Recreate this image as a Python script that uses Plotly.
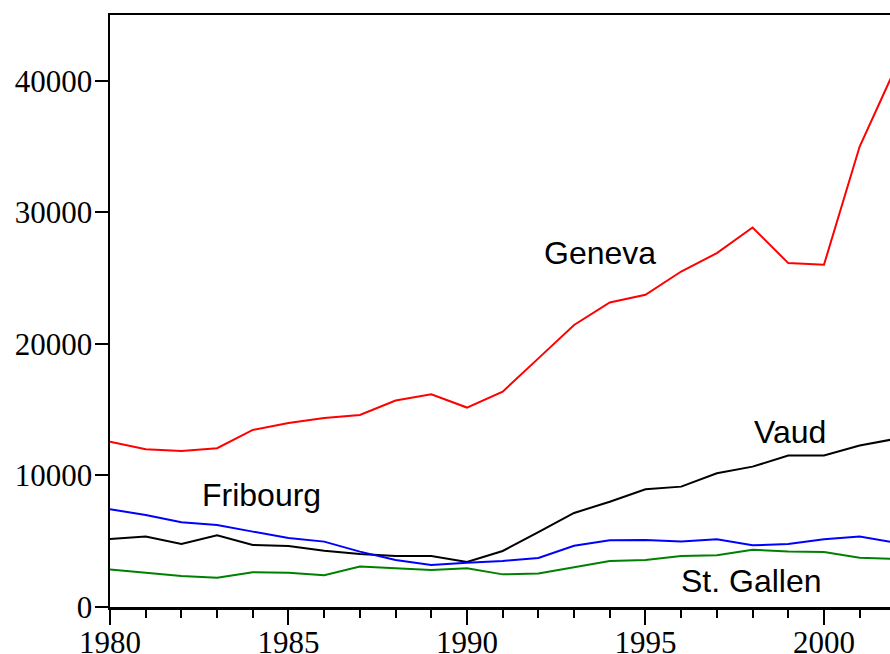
import plotly.graph_objects as go

years = list(range(1980, 2003))
geneva = [12570, 11990, 11860, 12070, 13460, 13990, 14370, 14600, 15690, 16170,
          15160, 16370, 18900, 21440, 23150, 23730, 25500, 26900, 28850, 26140,
          26010, 35000, 40950]
vaud = [5170, 5350, 4790, 5450, 4710, 4640, 4280, 4030, 3880, 3880,
        3420, 4260, 5700, 7150, 8000, 8950, 9150, 10170, 10670, 11510,
        11510, 12270, 12780]
fribourg = [7430, 7000, 6440, 6240, 5730, 5250, 4970, 4210, 3570, 3190,
            3370, 3500, 3730, 4650, 5080, 5100, 4970, 5150, 4690, 4790,
            5150, 5350, 4900]
stgallen = [2860, 2610, 2360, 2230, 2640, 2610, 2410, 3070, 2940, 2810,
            2940, 2480, 2550, 3000, 3500, 3570, 3880, 3930, 4360, 4210,
            4180, 3750, 3650]

series = [("Geneva", geneva, "#ff0000"), ("Vaud", vaud, "#000000"),
          ("Fribourg", fribourg, "#0000ff"), ("St. Gallen", stgallen, "#008000")]

labels = [("Geneva", 1993.73, 26920), ("Vaud", 1999.05, 13310),
          ("Fribourg", 1984.23, 8520), ("St. Gallen", 1997.98, 1980)]

fig = go.Figure()
for name, vals, col in series:
    fig.add_trace(go.Scatter(x=years, y=vals, mode="lines", name=name,
                             line=dict(color=col, width=2)))

for txt, x, y in labels:
    fig.add_annotation(x=x, y=y, text=txt, showarrow=False,
                       font=dict(family="Liberation Sans, Arial, sans-serif", size=32, color="black"))

serif = "Liberation Serif, Times New Roman, serif"
fig.update_layout(
    width=890, height=654,
    margin=dict(l=110, r=0, t=15, b=47),
    paper_bgcolor="white", plot_bgcolor="white",
    showlegend=False,
    font=dict(family=serif, size=31, color="black"),
)
fig.update_xaxes(range=[1980, 2001.85], tickmode="linear", tick0=1980, dtick=5,
                 ticks="outside", ticklen=15, tickwidth=2, tickcolor="black",
                 minor=dict(dtick=1, tick0=1980, ticks="outside", ticklen=8, tickwidth=2, tickcolor="black"),
                 showline=True, linecolor="black", linewidth=2.5, mirror=True,
                 showgrid=False, zeroline=False, automargin=False,
                 ticklabelstandoff=-9,
                 tickfont=dict(family=serif, size=31))
fig.update_yaxes(range=[0, 45000], tickmode="linear", tick0=0, dtick=10000,
                 tickformat="d",
                 ticks="outside", ticklen=13, tickwidth=2, tickcolor="black",
                 showline=True, linecolor="black", linewidth=2.5,
                 showgrid=False, zeroline=False, automargin=False,
                 ticklabelstandoff=-4,
                 tickfont=dict(family=serif, size=31))

fig.write_html("out.html",
               config={"displayModeBar": False, "staticPlot": True},
               post_script="document.body.style.margin='0';document.body.style.overflow='hidden';")
